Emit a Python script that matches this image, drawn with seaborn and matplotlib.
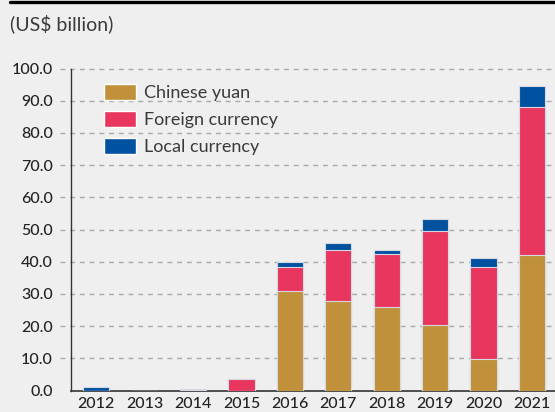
import matplotlib
matplotlib.use("Agg")
import matplotlib.pyplot as plt
from matplotlib.patches import Patch
from matplotlib.lines import Line2D
import seaborn as sns
import numpy as np

years = ["2012", "2013", "2014", "2015", "2016", "2017", "2018", "2019", "2020", "2021"]
chinese_yuan = [0.0, 0.0, 0.0, 0.0, 30.9, 27.8, 25.9, 20.2, 9.7, 42.1]
foreign_currency = [0.0, 0.0, 0.1, 3.5, 7.4, 15.8, 16.5, 29.2, 28.6, 45.8]
local_currency = [1.1, 0.0, 0.4, 0.2, 1.7, 2.1, 1.3, 3.8, 2.9, 6.8]
y_ticks = [0, 10, 20, 30, 40, 50, 60, 70, 80, 90, 100]

c_yuan = "#C0903A"
c_foreign = "#E8365F"
c_local = "#0051A0"
bg = "#EFEFEF"
text_c = "#222222"

sns.set_theme(style="white")
plt.rcParams["font.family"] = ["Lato", "DejaVu Sans"]

fig = plt.figure(figsize=(5.55, 4.12), dpi=100, facecolor=bg)
ax = fig.add_axes([71 / 555, 1 - 390.5 / 412, 1 - 71 / 555, (390.5 - 68.5) / 412])
ax.set_facecolor(bg)

yuan = np.array(chinese_yuan)
yuan_foreign = yuan + np.array(foreign_currency)
total = yuan_foreign + np.array(local_currency)

bar_kw = dict(width=0.54, edgecolor="#d6d9e4", linewidth=0.8, ax=ax, zorder=3)
sns.barplot(x=years, y=total, color=c_local, saturation=1, **bar_kw)
sns.barplot(x=years, y=yuan_foreign, color=c_foreign, saturation=1, **bar_kw)
sns.barplot(x=years, y=yuan, color=c_yuan, saturation=1, **bar_kw)

ax.set_ylim(0, 100)
ax.set_xlim(-0.52, 9.475)
ax.set_yticks(y_ticks)
ax.set_yticklabels([f"{v:.1f}" for v in y_ticks])
ax.tick_params(axis="y", length=0, pad=13, labelsize=11.5, labelcolor=text_c)
ax.tick_params(axis="x", length=0, pad=4.5, labelsize=11.5, labelcolor=text_c)
for lab in ax.get_yticklabels() + ax.get_xticklabels():
    lab.set_fontweight("medium")

# dashed gridlines running slightly past the y axis
for v in y_ticks[1:]:
    ax.plot([-0.023, 1], [v, v], transform=ax.get_yaxis_transform(), clip_on=False,
            color="#a8a8a8", lw=1.0, ls=(0, (3.5, 3.5)), zorder=1)

for side in ["top", "right"]:
    ax.spines[side].set_visible(False)
ax.spines["left"].set_color("#333333")
ax.spines["left"].set_linewidth(1.0)
ax.spines["bottom"].set_color("#333333")
ax.spines["bottom"].set_linewidth(1.2)
ax.set_xlabel("")
ax.set_ylabel("")

handles = [Patch(facecolor=c_yuan, label="Chinese yuan"),
           Patch(facecolor=c_foreign, label="Foreign currency"),
           Patch(facecolor=c_local, label="Local currency")]
leg = fig.legend(handles=handles, loc="upper left", bbox_to_anchor=(104 / 555, 1 - 84.5 / 412),
                 frameon=False, handlelength=1.75, handleheight=0.95,
                 handletextpad=0.45, labelspacing=0.55, borderpad=0, borderaxespad=0,
                 prop={"size": 13, "weight": "normal"})
for t in leg.get_texts():
    t.set_color("#3a3a3a")

fig.add_artist(Line2D([10 / 555, 1], [1 - 1.5 / 412, 1 - 1.5 / 412], color="black", lw=2.4))
fig.text(10 / 555, 1 - 14 / 412, "(US$ billion)", fontsize=14, color="#3a3a3a",
         va="top", ha="left")

fig.savefig("out.png", dpi=100, facecolor=bg)
